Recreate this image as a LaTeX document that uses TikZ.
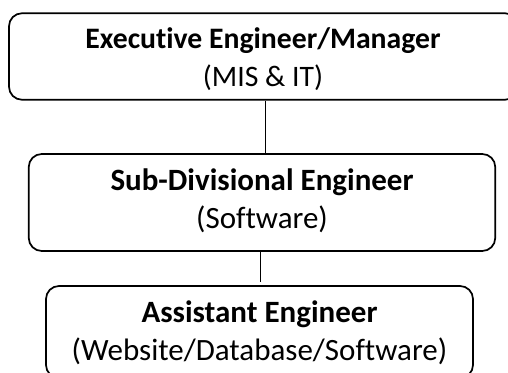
\documentclass[tikz,border=0pt]{standalone}
\usepackage{fontspec}
\setmainfont[Ligatures=CommonOff]{Carlito}
\begin{document}
\begin{tikzpicture}[x=1pt,y=1pt,
  orgbox/.style={draw=black, line width=1.7pt, rounded corners=13pt, inner sep=0pt},
  orgtext/.style={align=center, inner sep=0pt, font=\fontsize{31}{38}\selectfont},
  link/.style={draw=black, line width=1pt}]
\useasboundingbox (0,0) rectangle (508,372);
\clip (0,0) rectangle (508,372);
\node[orgbox, minimum width=509pt, minimum height=86.5pt] (top) at (263.5,315.5) {};
\node[orgtext, font=\fontsize{29.7}{38}\selectfont] (toptext) at ([xshift=-0.5pt,yshift=-3pt]top.center)
  {\textbf{Executive Engineer/Manager}\\(MIS \& IT)};
\node[orgbox, minimum width=466.5pt, minimum height=97pt] (mid) at (262,169.5) {};
\node[orgtext] (midtext) at ([yshift=2pt]mid.center)
  {\textbf{Sub-Divisional Engineer}\\(Software)};
\node[orgbox, minimum width=427pt, minimum height=92pt] (bot) at (259.5,40) {};
\node[orgtext] (bottext) at ([yshift=-1pt]bot.center)
  {\textbf{Assistant Engineer}\\(Website/Database/Software)};
\draw[link] ([xshift=1.5pt]top.south) -- ([xshift=3pt]mid.north);
\draw[link] ([xshift=-1.3pt]mid.south) -- ([xshift=1.2pt,yshift=3pt]bot.north);
\end{tikzpicture}
\end{document}
